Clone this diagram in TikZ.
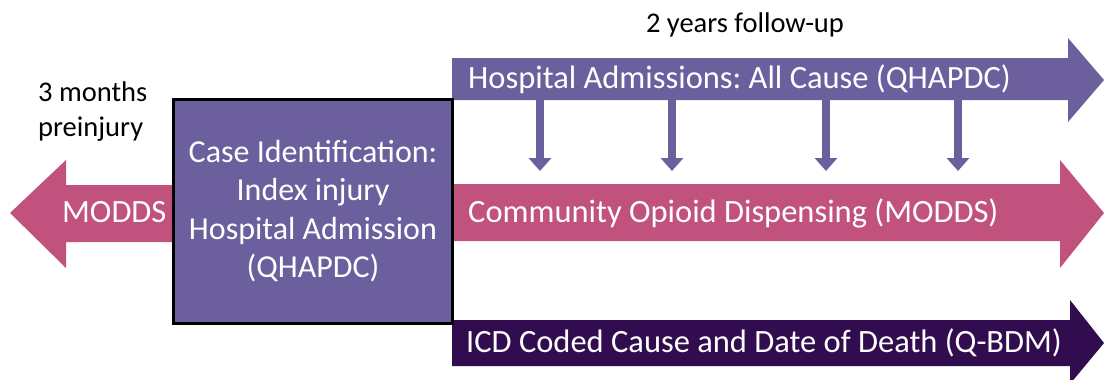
\documentclass[tikz,border=0pt]{standalone}
\usepackage{fontspec}
\setmainfont{Carlito}
\usetikzlibrary{arrows.meta}
\frenchspacing

\definecolor{hospcol}{RGB}{107,95,158}
\definecolor{opiocol}{RGB}{192,82,125}
\definecolor{deathcol}{RGB}{49,13,79}

\begin{document}
\begin{tikzpicture}[x=1pt, y=-1pt,
  bandtext/.style={text=white, font=\fontsize{32.5}{36}\selectfont, anchor=west, inner sep=0pt},
  note/.style={text=black, font=\fontsize{28.5}{35}\selectfont, align=left, inner sep=0pt},
  drop/.style={hospcol, line width=8pt, -{Triangle[width=22pt, length=13pt]}}]

\useasboundingbox (0,0) rectangle (1104,380);

% time bands
\fill[hospcol] (452,58) -- (1068,58) -- (1068,38) -- (1104,80) -- (1068,122) -- (1068,100) -- (452,100) -- cycle;
\fill[opiocol] (452,184) -- (1060,184) -- (1060,160) -- (1104,213) -- (1060,268) -- (1060,241) -- (452,241) -- cycle;
\fill[opiocol] (180,185) -- (66,185) -- (66,160) -- (10,213) -- (66,268) -- (66,242) -- (180,242) -- cycle;
\fill[deathcol] (452,320) -- (1070,320) -- (1070,300) -- (1104,343) -- (1070,384) -- (1070,366) -- (452,366) -- cycle;

\node (case) [draw=black, line width=3pt, fill=hospcol, text=white, align=center,
  minimum width=279pt, minimum height=224pt, inner sep=0pt,
  font=\fontsize{32}{38.5}\selectfont] at (313,211)
  {Case Identification:\\Index injury\\Hospital Admission\\(QHAPDC)};

\node (hosp) [bandtext] at (468,79) {Hospital Admissions: All Cause (QHAPDC)};
\node (opio) [bandtext] at (468,213) {Community Opioid Dispensing (MODDS)};
\node (death) [bandtext] at (466,343) {ICD Coded Cause and Date of Death (Q-BDM)};
\node (pre) [bandtext] at (62,212) {MODDS};

\node (follow) [note] at (745,25) {2 years follow-up};
\node (months) [note, anchor=west] at (38,112) {3 months\\preinjury};

% admissions feeding the dispensing band
\foreach \x [count=\i] in {540,672,826,958} {
  \coordinate (up\i) at (\x,99);
  \coordinate (dn\i) at (\x,171);
  \draw[drop] (up\i) -- (dn\i);
}

\end{tikzpicture}
\end{document}
